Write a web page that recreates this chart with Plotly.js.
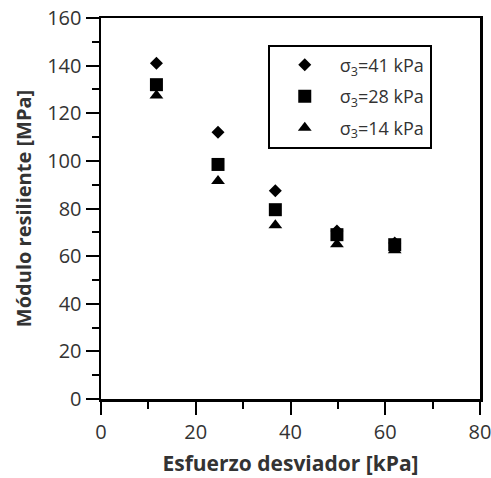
<!DOCTYPE html>
<html>
<head>
<meta charset="utf-8">
<script src="https://cdn.plot.ly/plotly-3.0.1.min.js"></script>
<style>html,body{margin:0;padding:0;background:#fff;}#chart{width:491px;height:478px;}</style>
</head>
<body>
<div id="chart"></div>
<script>
const esfuerzo = [11.7, 24.7, 36.8, 49.8, 62];
const modulo41 = [141, 112, 87.5, 70.5, 65.5];
const modulo28 = [132, 98.5, 79.5, 69, 64.8];
const modulo14 = [127.5, 91.5, 73, 65, 62.5];
const seriesNames = ['σ<sub>3</sub>=41 kPa', 'σ<sub>3</sub>=28 kPa', 'σ<sub>3</sub>=14 kPa'];
const xTicks = [0, 20, 40, 60, 80];
const yTicks = [0, 20, 40, 60, 80, 100, 120, 140, 160];

const seriesValues = [modulo41, modulo28, modulo14];
const symbols = ['diamond', 'square', 'triangle-up'];
const sizes = [10, 13, 12];
const traces = seriesValues.map((v, i) => ({
  x: esfuerzo, y: v, type: 'scatter', mode: 'markers', name: seriesNames[i],
  legendgroup: 'g' + i,
  marker: {symbol: symbols[i], size: sizes[i], color: '#000', line: {width: 0}}
}));

const fontFam = 'Open Sans, sans-serif';
const axisCommon = {
  showline: true, linecolor: '#000', linewidth: 2.5, mirror: true,
  ticks: 'outside', ticklen: 13, tickwidth: 2, tickcolor: '#000',
  showgrid: false, zeroline: false, ticklabeloverflow: 'allow',
  tickfont: {family: fontFam, size: 20, color: '#333'},
  minor: {ticks: 'outside', ticklen: 7, tickwidth: 2, tickcolor: '#000', showgrid: false, dtick: 10}
};

const layout = {
  width: 491, height: 478,
  margin: {l: 101, r: 11, t: 18, b: 79},
  paper_bgcolor: '#fff', plot_bgcolor: '#fff',
  showlegend: true,
  legend: {
    x: 0.44, y: 0.93, xanchor: 'left', yanchor: 'top',
    bordercolor: '#000', borderwidth: 2, bgcolor: '#fff',
    font: {family: fontFam, size: 18, color: '#333'},
    itemwidth: 60, tracegroupgap: 5
  },
  xaxis: Object.assign({}, axisCommon, {
    range: [0, 80], tickvals: xTicks, ticktext: xTicks.map(String),
    title: {text: '<b>Esfuerzo desviador [kPa]</b>', font: {family: fontFam, size: 21, color: '#333'}, standoff: 13}
  }),
  yaxis: Object.assign({}, axisCommon, {
    range: [0, 160], tickvals: yTicks, ticktext: yTicks.map(String),
    title: {text: '<b>Módulo resiliente [MPa]</b>', font: {family: fontFam, size: 20, color: '#333'}, standoff: 10}
  })
};

Plotly.newPlot('chart', traces, layout, {displayModeBar: false, staticPlot: true});
</script>
</body>
</html>
